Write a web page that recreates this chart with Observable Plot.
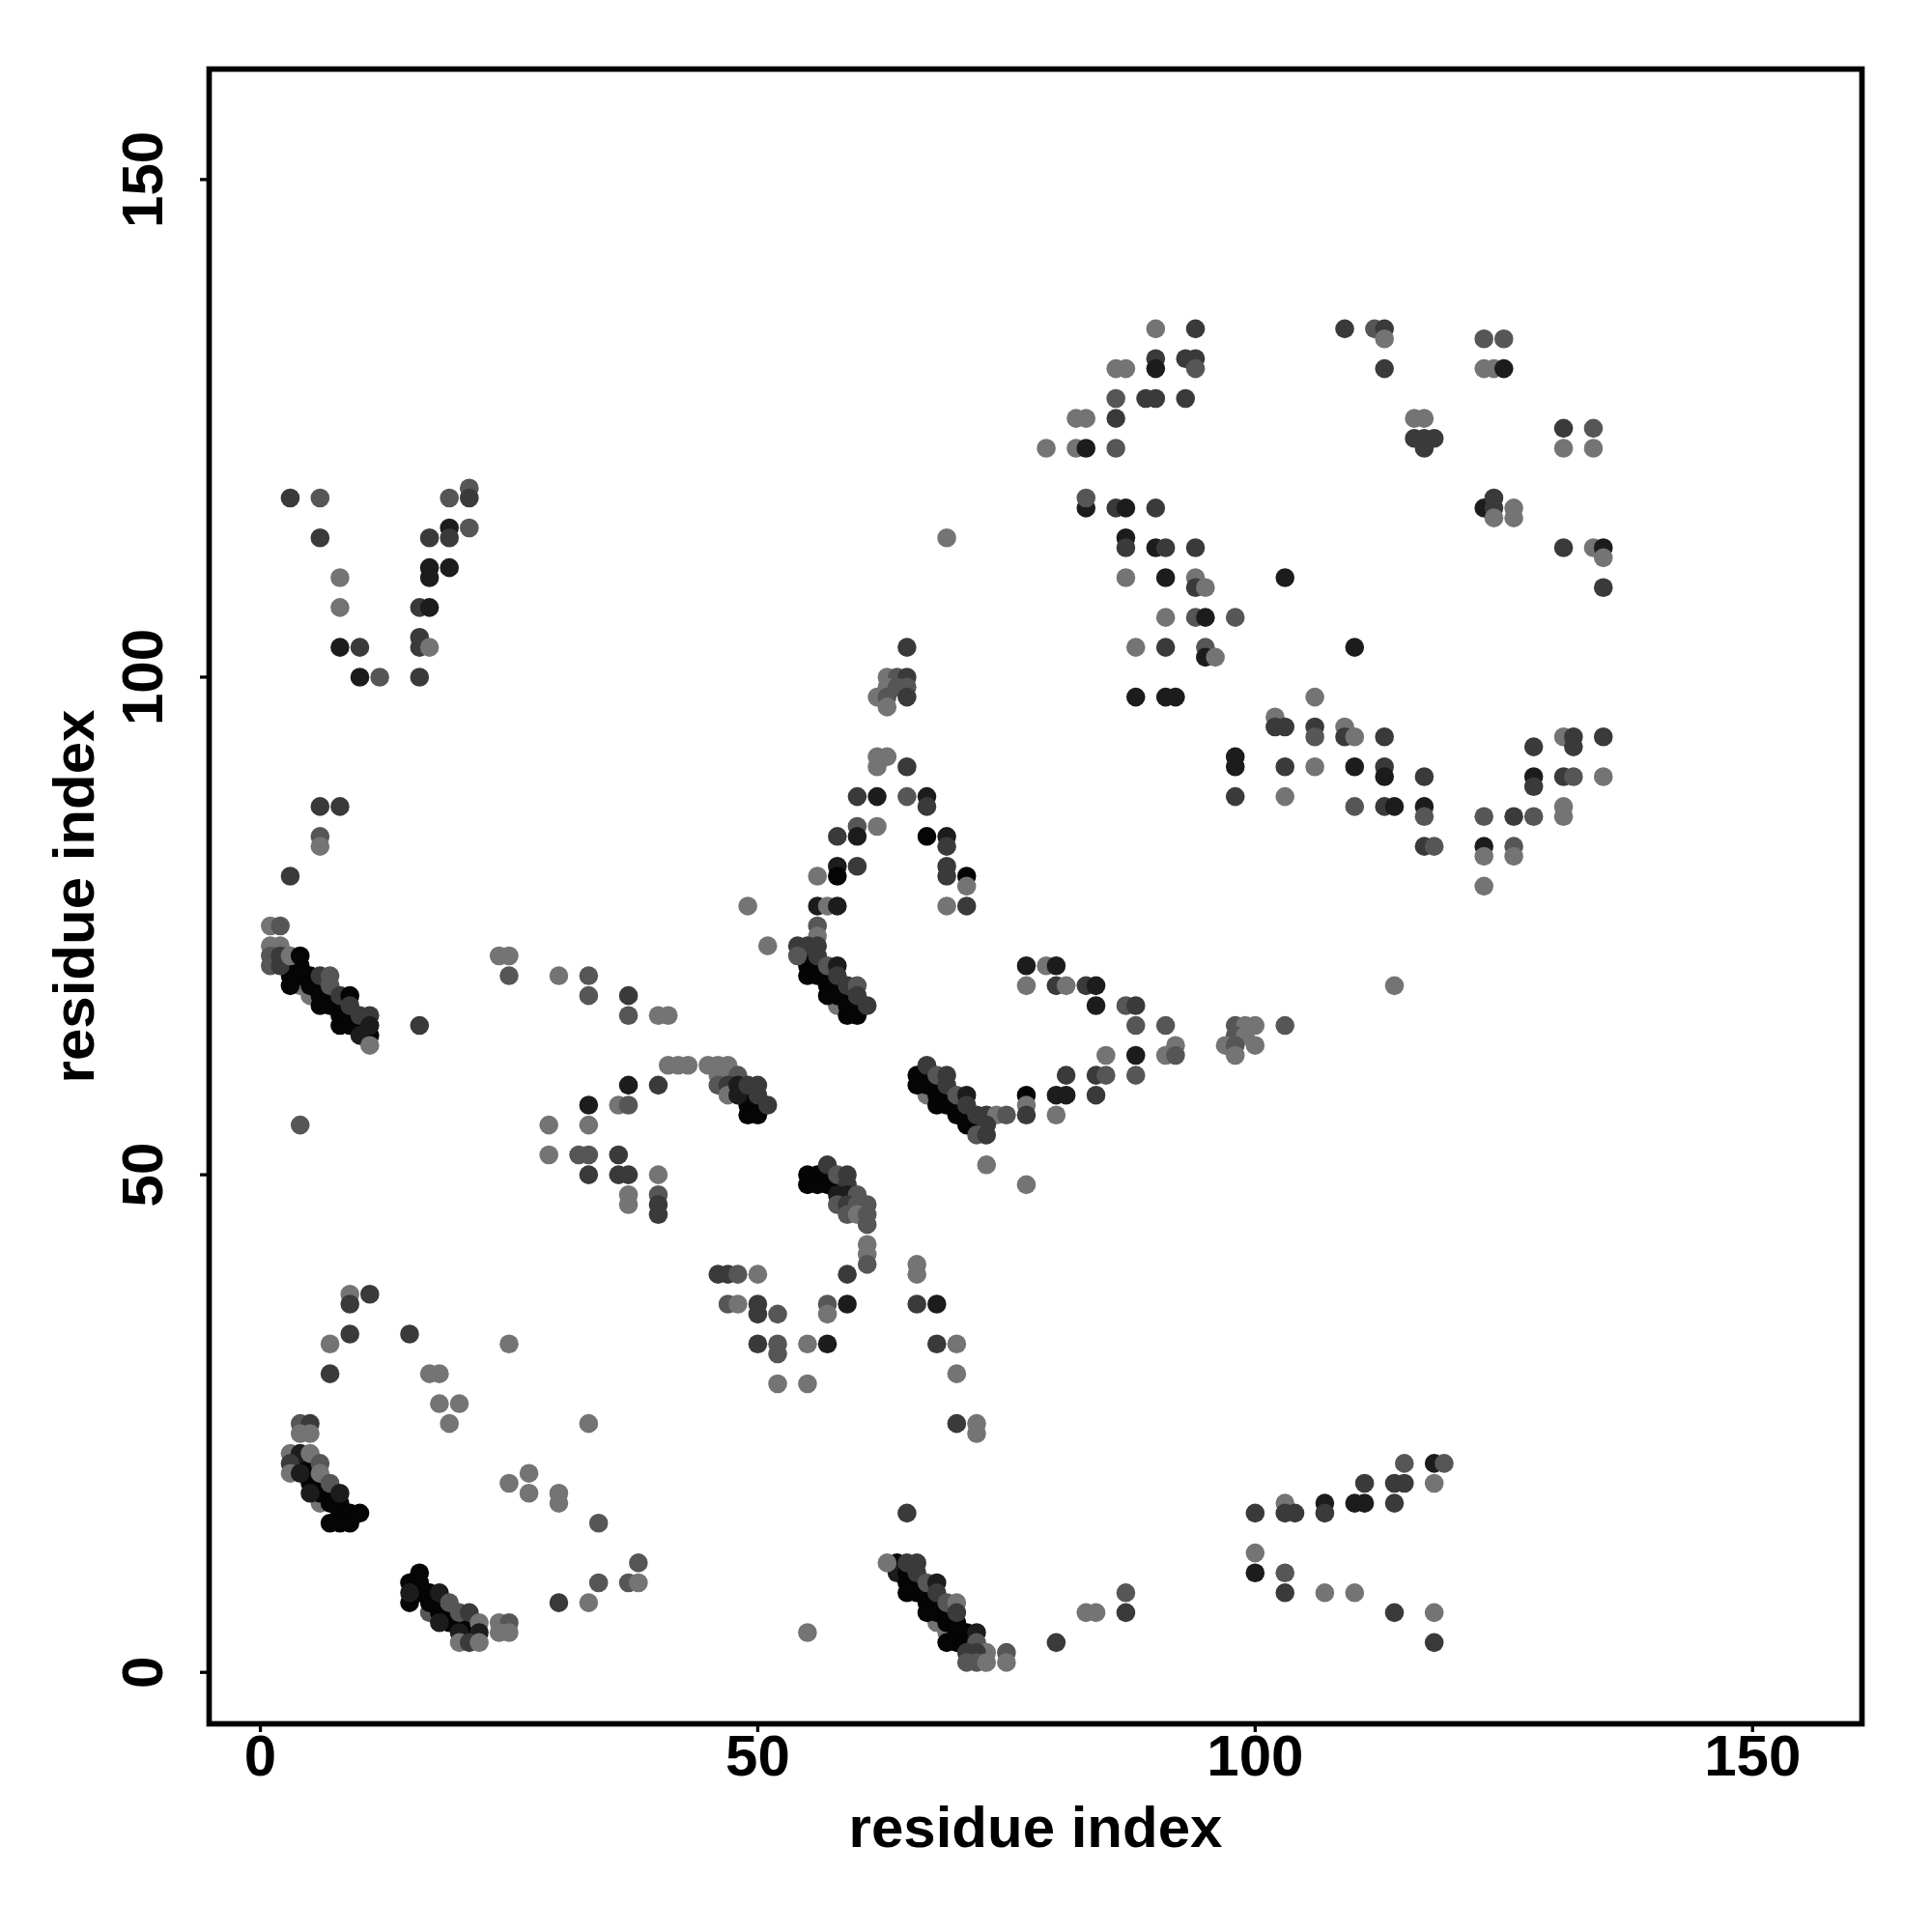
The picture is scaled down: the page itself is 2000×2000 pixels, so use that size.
<!DOCTYPE html>
<html><head><meta charset="utf-8">
<script src="https://cdn.jsdelivr.net/npm/d3@7"></script>
<script src="https://cdn.jsdelivr.net/npm/@observablehq/plot@0.6"></script>
<style>html,body{margin:0;padding:0;background:#fff}svg{display:block}</style>
</head><body><div id="chart"></div>
<script>
// Each contact: [residue x, residue y, shade level 1 (light) .. 5 (near black)]
const a=1,b=2,c=3,d=4,e=5;
const topRight=[[90,135,a],[94,135,c],[109,135,c],[112,135,b],[113,135,c],[123,134,b],[125,134,b],[113,134,a],[90,132,c],[93,132,c],[94,132,c],[86,131,a],[87,131,a],[90,131,d],[94,131,b],[113,131,c],[123,131,a],[124,131,a],[125,131,d],[86,128,b],[89,128,c],[90,128,c],[93,128,c],[82,126,a],[83,126,a],[86,126,c],[116,126,a],[117,126,a],[131,125,c],[134,125,b],[116,124,c],[117,123,c],[118,124,c],[117,124,c],[79,123,a],[82,123,a],[83,123,d],[86,123,b],[131,123,a],[134,123,a],[83,117,d],[83,118,b],[86,117,c],[87,117,d],[90,117,c],[123,117,d],[124,117,c],[124,118,c],[126,117,a],[124,116,a],[126,116,a],[69,114,a],[87,114,d],[87,113,c],[90,113,d],[91,113,c],[94,113,c],[131,113,c],[134,113,a],[135,113,d],[135,112,a],[87,110,a],[91,110,d],[94,110,a],[103,110,d],[94,109,c],[95,109,a],[135,109,c],[91,106,a],[94,106,b],[95,106,d],[98,106,b],[88,103,a],[91,103,c],[95,103,b],[110,103,d],[95,102,d],[96,102,a],[88,98,d],[91,98,d],[92,98,d],[106,98,a]];
const rightMiddle=[[102,96,a],[102,95,c],[103,95,c],[106,95,c],[109,95,a],[106,94,b],[109,94,c],[110,94,a],[113,94,c],[131,94,a],[132,94,c],[135,94,c],[128,93,c],[132,93,c],[98,92,d],[98,91,d],[103,91,c],[106,91,a],[110,91,d],[113,91,c],[113,90,d],[117,90,c],[128,90,d],[131,90,c],[132,90,b],[135,90,a],[128,89,c],[98,88,c],[103,88,a],[110,87,b],[113,87,c],[114,87,d],[117,87,d],[131,87,a],[117,86,b],[123,86,b],[126,86,c],[128,86,b],[131,86,a],[117,83,c],[118,83,b],[123,83,d],[126,83,b],[123,82,a],[126,82,a],[123,79,a]];
const vShape=[[3,118,c],[6,118,b],[19,118,b],[21,119,b],[21,118,c],[19,115,d],[21,115,b],[6,114,c],[17,114,c],[19,114,c],[17,111,d],[19,111,d],[8,110,a],[17,110,d],[8,107,a],[16,107,c],[17,107,d],[16,104,c],[8,103,d],[10,103,c],[16,103,c],[17,103,a],[10,100,d],[12,100,b],[16,100,c]];
const archTop=[[65,103,c],[63,100,a],[64,100,b],[65,100,c],[63,99,a],[64,99,b],[65,99,b],[62,98,a],[63,98,b],[65,98,c],[63,97,a],[62,92,a],[63,92,a],[62,91,a],[65,91,c],[60,88,c],[62,88,d],[65,88,b],[67,88,d],[67,87,c],[60,85,b],[62,85,a],[58,84,c],[60,84,d],[67,84,e],[69,84,d],[69,83,c],[58,81,d],[60,81,c],[69,81,c],[56,80,a],[58,80,e],[69,80,c],[71,80,e],[71,79,a],[49,77,a],[56,77,d],[57,77,a],[58,77,d],[69,77,a],[71,77,c],[6,87,c],[8,87,c],[6,84,b],[6,83,a],[3,80,c]];
const clusterA=[[4,69,a],[5,68,a],[3,71,e],[4,71,e],[3,70,e],[4,70,e],[5,70,e],[3,69,e],[5,69,e],[6,69,e],[6,68,e],[6,67,e],[7,68,e],[7,67,e],[8,67,e],[8,66,e],[8,65,e],[9,66,e],[9,65,e],[10,65,e],[11,64,e],[1,75,a],[2,75,b],[1,73,a],[2,73,a],[1,72,b],[1,71,b],[2,72,c],[2,71,c],[3,72,a],[4,72,e],[6,70,c],[7,70,b],[7,69,b],[8,68,c],[9,68,e],[9,67,c],[10,66,c],[11,66,c],[11,65,d],[10,64,d],[11,63,a]];
const clusterB=[[58,67,a],[55,72,e],[55,71,e],[56,71,e],[55,70,e],[56,70,e],[57,70,e],[57,69,e],[58,69,e],[59,68,e],[57,68,e],[58,68,e],[59,67,e],[60,67,e],[59,66,e],[60,66,e],[56,75,b],[56,74,a],[54,73,c],[55,73,c],[56,73,c],[54,72,b],[56,72,c],[57,71,b],[58,71,d],[58,70,c],[59,69,c],[60,69,b],[60,68,c],[61,67,c]];
const clusterC=[[67,58,a],[66,60,e],[66,59,e],[67,60,e],[67,59,e],[68,59,e],[68,58,e],[69,58,e],[68,57,e],[69,57,e],[70,57,e],[70,56,e],[71,56,e],[71,55,e],[72,55,e],[67,61,c],[68,60,b],[69,60,c],[69,59,c],[70,58,b],[71,58,d],[71,57,c],[72,56,c],[73,56,c],[74,56,a],[75,56,b],[73,55,c],[72,54,b],[73,54,c],[77,58,e],[77,57,a],[77,56,c]];
const clusterD=[[49,58,e],[49,57,e],[50,57,e],[49,56,e],[50,56,e],[45,61,a],[46,61,a],[47,61,a],[46,60,a],[47,60,a],[48,60,b],[46,59,b],[47,59,c],[47,58,a],[48,59,d],[48,58,d],[49,59,c],[50,59,c],[50,58,c],[51,57,c]];
const clusterE=[[55,50,e],[56,50,e],[55,49,e],[56,49,e],[57,50,e],[57,49,e],[58,49,e],[57,51,c],[58,50,b],[59,50,c],[59,49,c],[58,48,d],[59,48,d],[60,48,b],[61,47,b],[58,47,b],[59,47,c],[60,47,b],[59,46,b],[60,46,a],[61,46,b],[61,45,b],[61,43,a],[61,42,a],[61,41,b]];
const midRow=[[24,72,a],[25,72,a],[51,73,a],[77,71,d],[79,71,a],[80,71,d],[25,70,b],[30,70,a],[33,70,b],[77,69,a],[80,69,c],[81,69,a],[83,69,c],[84,69,d],[114,69,a],[33,68,b],[37,68,c],[84,67,d],[87,67,b],[88,67,c],[37,66,b],[40,66,a],[41,66,a],[16,65,c],[88,65,b],[91,65,b],[98,65,b],[99,65,a],[100,65,a],[103,65,b],[98,64,b],[99,64,a],[97,63,a],[92,63,a],[98,63,b],[100,63,a],[85,62,a],[88,62,d],[91,62,a],[92,62,b],[98,62,a],[41,61,a],[42,61,a],[43,61,a],[81,60,c],[84,60,c],[85,60,b],[88,60,b],[37,59,d],[40,59,c],[80,58,d],[81,58,d],[84,58,c],[33,57,d],[36,57,a],[37,57,b],[80,56,a],[4,55,b],[29,55,a],[33,55,a],[29,52,a],[32,52,b],[33,52,b],[36,52,c],[73,51,a],[33,50,c],[36,50,c],[37,50,c],[40,50,a],[77,49,a],[37,48,a],[40,48,b],[37,47,a],[40,47,c],[40,46,c]];
const lowMiddle=[[46,40,c],[47,40,c],[48,40,b],[50,40,a],[59,40,c],[66,41,a],[66,40,a],[9,38,a],[11,38,c],[9,37,c],[47,37,b],[48,37,a],[50,37,c],[57,37,b],[59,37,d],[66,37,c],[68,37,d],[50,36,c],[52,36,b],[57,36,a],[9,34,c],[15,34,c],[7,33,a],[25,33,a],[50,33,c],[52,33,b],[55,33,a],[57,33,d],[68,33,c],[70,33,a],[52,32,b],[7,30,c],[17,30,a],[18,30,a],[70,30,a],[52,29,a],[55,29,a],[18,27,a],[20,27,a],[19,25,a],[33,25,a],[70,25,c],[72,25,a],[72,24,a]];
const clusterF=[[6,17,a],[4,21,e],[5,21,e],[5,20,e],[5,19,e],[6,19,e],[6,18,e],[7,18,e],[7,17,e],[8,17,e],[8,16,e],[9,16,e],[10,16,e],[7,15,e],[8,15,e],[9,15,e],[4,25,b],[5,25,c],[4,24,a],[5,24,a],[3,22,a],[4,22,d],[5,22,a],[6,21,b],[3,21,c],[3,20,a],[4,20,d],[6,20,a],[7,19,b],[5,18,d],[8,18,d]];
const clusterG=[[17,6,b],[16,10,e],[15,9,e],[16,9,e],[16,8,e],[15,7,e],[17,8,e],[17,7,e],[18,7,e],[18,6,e],[19,6,e],[19,5,e],[20,5,e],[21,5,e],[21,4,e],[15,8,d],[18,8,d],[19,7,b],[20,6,b],[21,6,c],[18,5,d],[22,5,a],[20,4,d],[22,4,d],[20,3,a],[21,3,c],[22,3,a],[24,5,a],[25,5,b],[24,4,a],[25,4,a]];
const clusterH=[[68,5,a],[69,4,a],[64,11,e],[64,10,d],[65,10,e],[65,9,e],[66,9,e],[65,8,e],[66,8,e],[67,8,e],[67,7,e],[68,7,e],[67,6,e],[68,6,e],[69,6,e],[69,5,e],[70,5,e],[70,4,e],[71,4,e],[69,3,e],[70,3,e],[71,3,e],[63,11,a],[65,11,c],[66,11,c],[66,10,c],[67,9,b],[68,9,d],[68,8,c],[69,7,b],[70,7,a],[70,6,c],[72,4,d],[72,3,b],[73,2,a],[71,2,c],[72,2,c],[75,2,b],[71,1,b],[72,1,b],[73,1,a],[75,1,a]];
const bottomRest=[[115,21,b],[118,21,d],[119,21,b],[27,20,a],[25,19,a],[111,19,c],[114,19,c],[115,19,c],[118,19,a],[27,18,a],[30,18,a],[30,17,a],[103,17,a],[107,17,d],[110,17,d],[111,17,d],[114,17,c],[65,16,c],[100,16,c],[103,16,c],[104,16,c],[107,16,c],[34,15,b],[100,12,a],[38,11,b],[100,10,d],[103,10,b],[34,9,b],[37,9,b],[38,9,a],[87,8,b],[103,8,c],[107,8,a],[110,8,a],[30,7,c],[33,7,a],[83,6,a],[84,6,a],[87,6,c],[114,6,c],[118,6,a],[55,4,a],[80,3,c],[118,3,c]];
const contacts=[...topRight,...rightMiddle,...vShape,...archTop,...midRow,...lowMiddle,...bottomRest,...clusterA,...clusterB,...clusterC,...clusterD,...clusterE,...clusterF,...clusterG,...clusterH];
const shadeColors=["#747474","#565656","#3a3a3a","#1c1c1c","#050505"];
const xTicks=[0,50,100,150], yTicks=[0,50,100,150];
const font={fontFamily:"'Liberation Sans',Arial,sans-serif",fontWeight:"bold"};
const chart=Plot.plot({
  width:2000,height:2000,marginLeft:216,marginRight:73,marginTop:71,marginBottom:216,
  style:{background:"#fff",color:"#000",...font},
  x:{domain:[-5.15,161]},y:{domain:[-5.17,161.1]},
  marks:[
    Plot.dot(contacts,{x:d=>d[0],y:d=>d[1],r:9.8,fill:d=>shadeColors[d[2]-1],stroke:"none"}),
    Plot.axisX({ticks:xTicks,tickSize:9,tickPadding:2,fontSize:60,strokeWidth:3.3,label:"residue index",labelAnchor:"center",labelArrow:"none",labelOffset:127,...font}),
    Plot.axisY({ticks:yTicks,tickSize:9,tickPadding:40,fontSize:60,strokeWidth:3.3,tickRotate:-90,label:"residue index",labelAnchor:"center",labelArrow:"none",labelOffset:162,...font}),
    Plot.frame({stroke:"#000",strokeWidth:5.7})
  ]
});
document.getElementById("chart").append(chart);
</script></body></html>
